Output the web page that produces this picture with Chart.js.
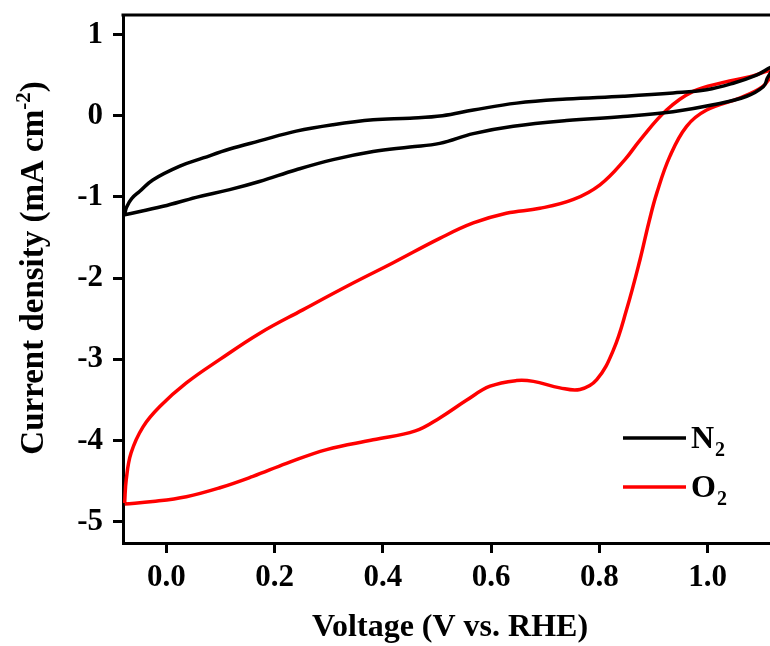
<!DOCTYPE html>
<html>
<head>
<meta charset="utf-8">
<script src="https://cdn.jsdelivr.net/npm/chart.js@4.4.1/dist/chart.umd.min.js"></script>
<style>
  html, body { margin: 0; padding: 0; background: #fff; }
  #wrap { width: 770px; height: 646px; }
</style>
</head>
<body>
<div id="wrap"><canvas id="cv"></canvas></div>
<script>
// CV loops: potential (V vs. RHE) and current density (mA cm^-2), one full sweep each
const n2Voltage = [-0.077, -0.073, -0.064, -0.049, -0.025, 0.025, 0.068, 0.117, 0.172, 0.24, 0.308, 0.382, 0.45, 0.51, 0.567, 0.647, 0.739, 0.844, 0.936, 0.998, 1.047, 1.09, 1.12,
  1.11, 1.103, 1.072, 1.01, 0.936, 0.844, 0.739, 0.641, 0.567, 0.505, 0.45, 0.382, 0.308, 0.24, 0.172, 0.117, 0.055, -0.006, -0.077];
const n2Current = [-1.21, -1.12, -1.02, -0.93, -0.79, -0.62, -0.52, -0.41, -0.31, -0.19, -0.11, -0.05, -0.03, 0.0, 0.07, 0.155, 0.205, 0.24, 0.28, 0.32, 0.40, 0.50, 0.60,
  0.46, 0.36, 0.24, 0.135, 0.05, -0.01, -0.06, -0.13, -0.22, -0.34, -0.385, -0.44, -0.54, -0.665, -0.81, -0.91, -1.005, -1.115, -1.22];

const o2Voltage = [-0.077, -0.074, -0.065, -0.043, -0.012, 0.037, 0.099, 0.172, 0.252, 0.345, 0.419, 0.505, 0.567, 0.628, 0.69, 0.752, 0.801, 0.847, 0.875, 0.924, 0.973, 1.029, 1.078, 1.12,
  1.115, 1.1, 1.06, 0.998, 0.961, 0.93, 0.906, 0.891, 0.875, 0.85, 0.826, 0.795, 0.764, 0.727, 0.678, 0.647, 0.598, 0.555, 0.505, 0.46, 0.382, 0.296, 0.222, 0.16, 0.099, 0.037, -0.025, -0.077];
const o2Current = [-4.77, -4.48, -4.15, -3.83, -3.58, -3.29, -3.0, -2.68, -2.39, -2.06, -1.81, -1.51, -1.32, -1.2, -1.14, -1.03, -0.85, -0.54, -0.30, 0.07, 0.30, 0.41, 0.48, 0.56,
  0.47, 0.35, 0.22, 0.07, -0.13, -0.50, -0.95, -1.32, -1.77, -2.39, -2.88, -3.25, -3.37, -3.35, -3.27, -3.26, -3.33, -3.50, -3.72, -3.88, -3.99, -4.11, -4.28, -4.44, -4.58, -4.69, -4.75, -4.78];

const seriesNames = ['N', 'O'];      // gas, subscript 2 added when drawn
const seriesColors = ['#000000', '#ff0000'];
const xTickValues = [0.0, 0.2, 0.4, 0.6, 0.8, 1.0];
const yTickValues = [-5, -4, -3, -2, -1, 0, 1];

const FONT = '"Liberation Serif", "Times New Roman", serif';

function toPoints(xs, ys) {
  return xs.map((x, i) => ({ x: x, y: ys[i] }));
}

// axis titles, top frame line and legend with sub/superscripts
const decorations = {
  id: 'decorations',
  afterDraw(chart) {
    const ctx = chart.ctx;
    const area = chart.chartArea;
    ctx.save();

    // top frame line
    ctx.strokeStyle = '#000';
    ctx.lineWidth = 3;
    ctx.beginPath();
    ctx.moveTo(area.left - 1.5, area.top);
    ctx.lineTo(area.right, area.top);
    ctx.stroke();

    ctx.fillStyle = '#000';
    ctx.textBaseline = 'alphabetic';

    // x title
    ctx.font = 'bold 32px ' + FONT;
    ctx.textAlign = 'center';
    ctx.fillText('Voltage (V vs. RHE)', 450, 636);

    // y title, rotated, with superscript
    ctx.save();
    ctx.translate(43, 268);
    ctx.rotate(-Math.PI / 2);
    const main = 'Current density (mA cm';
    const sup = '-2';
    const tail = ')';
    ctx.font = 'bold 33px ' + FONT;
    const wMain = ctx.measureText(main).width;
    const wTail = ctx.measureText(tail).width;
    ctx.font = 'bold 21px ' + FONT;
    const wSup = ctx.measureText(sup).width;
    const x0 = -(wMain + wSup + wTail) / 2;
    ctx.textAlign = 'left';
    ctx.font = 'bold 33px ' + FONT;
    ctx.fillText(main, x0, 0);
    ctx.font = 'bold 21px ' + FONT;
    ctx.fillText(sup, x0 + wMain, -13);
    ctx.font = 'bold 33px ' + FONT;
    ctx.fillText(tail, x0 + wMain + wSup, 0);
    ctx.restore();

    // legend
    const rows = [438, 487];
    chart.data.datasets.forEach((ds, i) => {
      const y = rows[i];
      ctx.strokeStyle = ds.borderColor;
      ctx.lineWidth = 3.5;
      ctx.beginPath();
      ctx.moveTo(623, y);
      ctx.lineTo(686, y);
      ctx.stroke();
      ctx.textAlign = 'left';
      ctx.font = 'bold 32px ' + FONT;
      ctx.fillText(ds.label, 691, y + 10);
      const w = ctx.measureText(ds.label).width;
      ctx.font = 'bold 20px ' + FONT;
      ctx.fillText('2', 691 + w + 1, y + 18);
    });

    ctx.restore();
  }
};

new Chart(document.getElementById('cv'), {
  type: 'scatter',
  data: {
    datasets: [
      {
        label: seriesNames[0],
        data: toPoints(n2Voltage, n2Current),
        borderColor: seriesColors[0],
        backgroundColor: seriesColors[0],
        showLine: true,
        borderWidth: 3.5,
        pointRadius: 0,
        tension: 0.4
      },
      {
        label: seriesNames[1],
        data: toPoints(o2Voltage, o2Current),
        borderColor: seriesColors[1],
        backgroundColor: seriesColors[1],
        showLine: true,
        borderWidth: 3.5,
        pointRadius: 0,
        tension: 0.4
      }
    ]
  },
  options: {
    responsive: true,
    maintainAspectRatio: false,
    animation: false,
    devicePixelRatio: 1,
    layout: { padding: { left: 0, top: 15, right: 0, bottom: 0 } },
    plugins: {
      legend: { display: false },
      tooltip: { enabled: false }
    },
    scales: {
      x: {
        type: 'linear',
        min: -0.08,
        max: 1.115,
        afterFit(scale) {
          scale.height = 103;
          scale.paddingLeft = 0;
          scale.paddingRight = 0;
        },
        afterBuildTicks(scale) { scale.ticks = xTickValues.map(v => ({ value: v })); },
        border: { display: true, color: '#000', width: 3 },
        grid: { drawOnChartArea: false, drawTicks: true, tickLength: 10, tickWidth: 3, tickColor: '#000' },
        ticks: {
          color: '#000',
          padding: 6,
          maxRotation: 0,
          font: { family: FONT, size: 31, weight: 'bold' },
          callback: v => v.toFixed(1)
        }
      },
      y: {
        type: 'linear',
        min: -5.26,
        max: 1.24,
        afterFit(scale) {
          scale.width = 123;
          scale.paddingTop = 0;
          scale.paddingBottom = 0;
        },
        afterBuildTicks(scale) { scale.ticks = yTickValues.map(v => ({ value: v })); },
        border: { display: true, color: '#000', width: 3 },
        grid: { drawOnChartArea: false, drawTicks: true, tickLength: 10, tickWidth: 3, tickColor: '#000' },
        ticks: {
          color: '#000',
          padding: 10,
          font: { family: FONT, size: 31, weight: 'bold' },
          callback: v => String(v)
        }
      }
    }
  },
  plugins: [decorations]
});
</script>
</body>
</html>
